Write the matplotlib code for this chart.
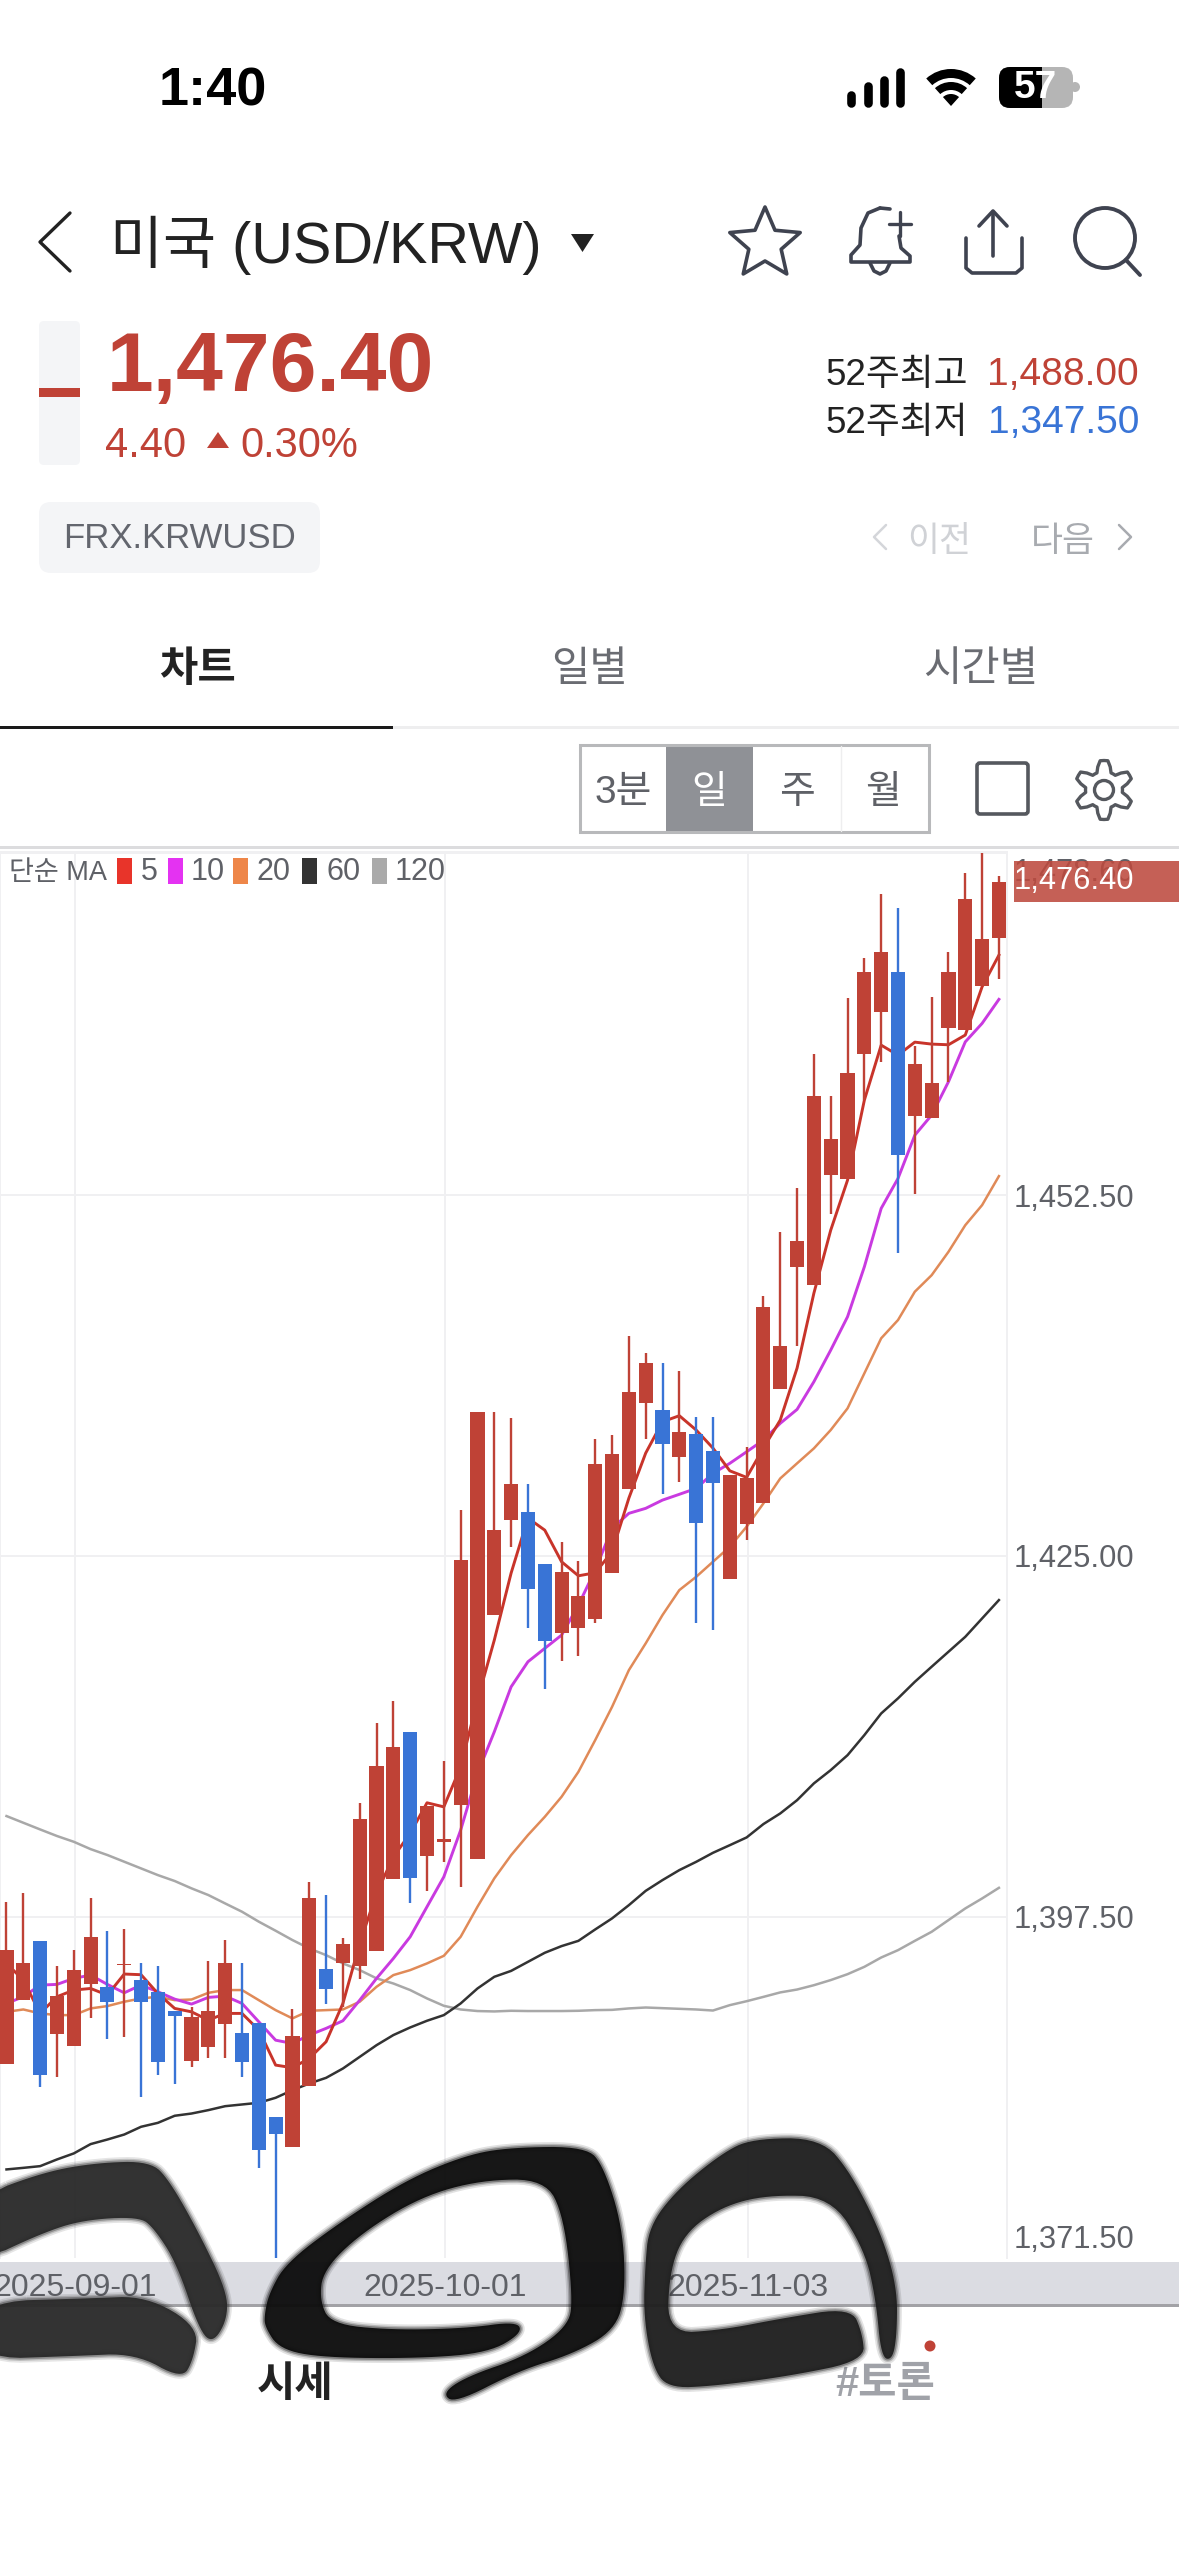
# -*- coding: utf-8 -*-
# USD/KRW daily candle chart, phone screenshot of the stock app
import numpy as np
import matplotlib
matplotlib.use('Agg')
import matplotlib.pyplot as plt
from matplotlib.patches import Rectangle, FancyBboxPatch, Polygon, Circle, Wedge
from matplotlib.transforms import ScaledTranslation

plt.rcParams['font.family'] = ['Liberation Sans', 'Noto Sans CJK KR', 'DejaVu Sans']

# candle data
body_top = [1394.97, 1393.95, 1395.65, 1391.46, 1393.44, 1395.96, 1392.15, 1393.90, 1392.65, 1391.76,
            1390.32, 1389.83, 1390.32, 1393.95, 1388.64, 1389.43, 1382.21, 1388.44, 1398.96, 1393.54,
            1395.42, 1404.95, 1408.99, 1410.46, 1411.55, 1405.94, 1403.45, 1424.69, 1435.99, 1426.97,
            1430.48, 1428.37, 1424.38, 1423.77, 1421.97, 1432.00, 1432.77, 1437.49, 1439.68, 1436.10,
            1434.47, 1434.27, 1432.97, 1431.17, 1430.96, 1443.97, 1440.99, 1448.99, 1460.02, 1456.79,
            1461.82, 1469.52, 1471.02, 1469.52, 1462.51, 1461.01, 1469.52, 1475.04, 1472.04, 1476.40]
body_bottom = [1386.25, 1391.15, 1385.44, 1388.56, 1387.65, 1392.37, 1390.98, 1393.80, 1390.98, 1386.45,
               1389.96, 1386.55, 1387.57, 1389.35, 1386.45, 1379.74, 1380.94, 1379.95, 1384.57, 1391.97,
               1393.95, 1393.77, 1394.86, 1400.37, 1400.49, 1402.16, 1403.19, 1406.01, 1401.90, 1420.50,
               1427.71, 1422.50, 1418.49, 1419.10, 1419.50, 1420.19, 1423.72, 1430.12, 1436.63, 1433.53,
               1432.52, 1427.53, 1430.53, 1423.22, 1427.41, 1429.01, 1437.71, 1447.04, 1445.64, 1454.05,
               1453.74, 1463.27, 1466.47, 1455.55, 1458.54, 1458.35, 1465.25, 1465.05, 1468.45, 1472.07]
highs = [1398.65, 1399.34, 1395.65, 1393.75, 1394.97, 1398.95, 1396.44, 1396.54, 1393.95, 1393.75,
         1390.32, 1390.60, 1394.13, 1395.73, 1393.95, 1389.43, 1382.21, 1390.44, 1400.12, 1399.16,
         1395.85, 1406.17, 1412.26, 1413.96, 1411.55, 1405.94, 1409.37, 1428.50, 1435.99, 1435.99,
         1435.49, 1430.46, 1424.38, 1426.08, 1424.61, 1433.89, 1434.19, 1441.78, 1440.49, 1439.68,
         1439.09, 1435.56, 1435.56, 1431.17, 1433.28, 1444.79, 1449.70, 1453.01, 1463.25, 1460.02,
         1467.52, 1470.54, 1475.42, 1474.35, 1463.86, 1467.61, 1471.02, 1477.02, 1478.60, 1476.81]
lows = [1386.25, 1391.15, 1384.50, 1385.26, 1387.65, 1389.76, 1388.16, 1388.36, 1383.78, 1385.46,
        1384.78, 1386.07, 1386.76, 1386.76, 1385.26, 1378.35, 1371.50, 1379.95, 1384.57, 1390.85,
        1390.65, 1392.78, 1394.86, 1400.37, 1398.57, 1399.48, 1401.67, 1399.79, 1401.90, 1420.50,
        1425.70, 1419.50, 1414.86, 1416.99, 1417.39, 1419.91, 1423.72, 1430.12, 1433.91, 1429.72,
        1430.61, 1419.91, 1419.35, 1423.22, 1426.21, 1429.01, 1437.71, 1441.01, 1445.64, 1451.05,
        1453.74, 1459.76, 1462.66, 1448.06, 1452.55, 1458.35, 1461.09, 1465.05, 1468.45, 1468.96]
falling = [2, 6, 8, 9, 10, 14, 15, 16, 19, 24, 31, 32, 39, 41, 42, 53]

# moving averages
ma5 = [1393.95, 1392.68, 1390.14, 1391.41, 1391.92, 1392.04, 1391.54, 1393.14, 1393.09, 1391.66,
       1390.52, 1390.26, 1389.63, 1390.14, 1390.14, 1388.87, 1386.20, 1386.00, 1386.71, 1387.98,
       1390.90, 1395.47, 1399.30, 1402.07, 1403.86, 1406.19, 1405.88, 1408.93, 1414.02, 1418.59,
       1423.70, 1427.89, 1426.97, 1424.56, 1423.49, 1423.72, 1425.32, 1429.41, 1432.84, 1435.23,
       1435.69, 1434.60, 1433.22, 1431.49, 1430.99, 1433.22, 1435.36, 1439.32, 1445.03, 1449.83,
       1453.64, 1459.74, 1463.93, 1463.17, 1464.16, 1464.01, 1463.96, 1464.70, 1468.38, 1470.79]
ma10 = [1390.90, 1391.41, 1392.30, 1392.35, 1392.81, 1393.06, 1392.35, 1391.71, 1392.30, 1391.79,
        1391.23, 1390.85, 1391.36, 1391.46, 1390.90, 1389.50, 1388.10, 1387.85, 1388.49, 1389.00,
        1389.58, 1391.15, 1392.81, 1394.33, 1395.98, 1398.27, 1400.55, 1404.11, 1408.43, 1411.60,
        1415.03, 1416.94, 1417.96, 1418.97, 1421.26, 1423.93, 1427.10, 1428.25, 1428.63, 1429.26,
        1429.70, 1430.15, 1431.30, 1432.06, 1432.94, 1433.83, 1435.11, 1436.17, 1438.28, 1440.69,
        1443.23, 1447.04, 1451.49, 1453.77, 1457.07, 1458.60, 1461.14, 1464.18, 1465.59, 1467.42]
ma20 = [1390.26, 1390.44, 1390.14, 1390.01, 1390.01, 1390.52, 1390.70, 1391.03, 1391.28, 1391.41,
        1391.15, 1391.20, 1391.71, 1391.92, 1391.92, 1391.15, 1390.39, 1389.76, 1390.34, 1390.39,
        1390.44, 1391.03, 1392.17, 1393.06, 1393.44, 1393.95, 1394.53, 1395.98, 1398.27, 1400.43,
        1402.20, 1403.73, 1405.12, 1406.65, 1408.55, 1410.97, 1413.50, 1416.30, 1418.34, 1420.50,
        1422.40, 1423.41, 1424.56, 1425.70, 1427.23, 1429.01, 1430.91, 1432.06, 1433.20, 1434.60,
        1436.25, 1438.92, 1441.59, 1442.98, 1445.14, 1446.40, 1448.18, 1450.21, 1451.74, 1453.95]
ma60 = [1378.25, 1378.37, 1378.50, 1379.01, 1379.47, 1380.18, 1380.53, 1380.91, 1381.50, 1381.80,
        1382.34, 1382.51, 1382.77, 1383.07, 1383.20, 1383.33, 1383.71, 1384.29, 1384.80, 1385.23,
        1385.94, 1386.83, 1387.72, 1388.49, 1389.07, 1389.58, 1390.01, 1390.90, 1392.04, 1392.93,
        1393.38, 1394.07, 1394.76, 1395.27, 1395.67, 1396.54, 1397.38, 1398.39, 1399.48, 1400.30,
        1401.06, 1401.69, 1402.38, 1402.96, 1403.55, 1404.57, 1405.38, 1406.39, 1407.67, 1408.68,
        1409.82, 1411.35, 1413.00, 1414.15, 1415.41, 1416.56, 1417.70, 1418.84, 1420.24, 1421.64]
ma120 = [1405.18, 1404.67, 1404.16, 1403.66, 1403.22, 1402.66, 1402.21, 1401.70, 1401.19, 1400.68,
         1400.23, 1399.67, 1399.16, 1398.52, 1397.89, 1397.13, 1396.44, 1395.73, 1395.09, 1394.58,
         1393.95, 1393.44, 1392.81, 1392.42, 1391.92, 1391.28, 1390.72, 1390.44, 1390.32, 1390.29,
         1390.34, 1390.32, 1390.32, 1390.32, 1390.34, 1390.39, 1390.41, 1390.52, 1390.59, 1390.54,
         1390.49, 1390.44, 1390.36, 1390.77, 1391.07, 1391.40, 1391.74, 1391.96, 1392.29, 1392.68,
         1393.13, 1393.69, 1394.40, 1394.96, 1395.67, 1396.36, 1397.25, 1398.14, 1398.90, 1399.71]

y_ticks = [1371.50, 1397.50, 1425.00, 1452.50, 1478.60]
y_labels = ['1,371.50', '1,397.50', '1,425.00', '1,452.50', '1,478.60']
x_ticks = [4.1, 26.08, 44.07]
x_labels = ['2025-09-01', '2025-10-01', '2025-11-03']

RED = '#bf4236'
BLUE = '#3974d6'
GREY_TXT = '#5f6167'
ICON = '#3f4350'

fig = plt.figure(figsize=(11.79, 25.56), dpi=100, facecolor='white')


def px_axes(z):
    a = fig.add_axes([0, 0, 1, 1], zorder=z)
    a.set_xlim(0, 1179)
    a.set_ylim(2556, 0)
    a.axis('off')
    return a


bg = px_axes(0)
fg = px_axes(5)


def txt(a, x, y, s, size, color, ha='left', va='center', weight='normal'):
    a.text(x, y, s, fontsize=size, color=color, ha=ha, va=va, fontweight=weight)


def line(a, xs, ys, color, lw, cap='round'):
    a.plot(xs, ys, color=color, lw=lw, solid_capstyle=cap, solid_joinstyle='round')


def rbox(a, x0, y0, x1, y1, r, **kw):
    a.add_patch(FancyBboxPatch((x0 + r, y0 + r), x1 - x0 - 2 * r, y1 - y0 - 2 * r,
                               boxstyle='round,pad=%g' % r, **kw))


# status bar
txt(bg, 159, 105, '1:40', 39, 'black', va='baseline', weight='bold')
for bx, by in zip([851, 868, 884, 900], [92, 83, 77, 69]):
    line(bg, [bx, bx], [by + 3, 103], 'black', 6.2)
for r_out, r_w in [(37, 9), (24, 8)]:
    bg.add_patch(Wedge((951, 106), r_out, 228, 312, width=r_w, color='black', lw=0))
bg.add_patch(Wedge((951, 106), 12, 228, 312, color='black', lw=0))
rbox(bg, 999, 67, 1073, 108, 11, fc='#b5b5b5', ec='none')
black_part = FancyBboxPatch((1010, 78), 52, 19, boxstyle='round,pad=11', fc='black', ec='none')
bg.add_patch(black_part)
black_part.set_clip_path(Rectangle((999, 60), 43, 55, transform=bg.transData))
bg.add_patch(Circle((1075, 87), 5, color='#b5b5b5', lw=0, zorder=0.5))
txt(bg, 1035, 88, '57', 28, 'white', ha='center', weight='bold')

# title row
line(bg, [70, 40, 70], [213, 242, 271], '#222222', 2.4)
txt(bg, 110, 263, '미국 (USD/KRW)', 41.5, '#222222', va='baseline')
bg.add_patch(Polygon([(571, 234), (594, 234), (582.5, 252)], fc='#222222', ec='none'))

star_a = np.deg2rad(np.arange(0, 360, 36) - 90)
star_r = np.where(np.arange(10) % 2 == 0, 37, 17)
bg.add_patch(Polygon(np.c_[765 + star_r * np.cos(star_a), 244 + star_r * np.sin(star_a)],
                     fc='none', ec=ICON, lw=2.6, joinstyle='round'))
line(bg, [880, 868, 861, 860, 851, 851, 910, 910, 901, 899],
     [208, 213, 228, 245, 255, 262, 262, 256, 248, 236], ICON, 2.6)
line(bg, [880, 890], [208, 209], ICON, 2.6)
line(bg, [870, 874, 880, 886, 890], [263, 271, 274, 271, 263], ICON, 2.6)
line(bg, [900, 900], [212, 236], ICON, 2.4)
line(bg, [889, 911], [224, 224], ICON, 2.4)
line(bg, [966, 966, 972, 1016, 1022, 1022], [238, 268, 273, 273, 268, 238], ICON, 2.6)
line(bg, [993, 993], [212, 256], ICON, 2.6)
line(bg, [979, 993, 1007], [226, 211, 226], ICON, 2.6)
bg.add_patch(Circle((1105, 238), 30, fc='none', ec=ICON, lw=2.8))
line(bg, [1126, 1140], [260, 275], ICON, 2.8)

# price block
rbox(bg, 39, 321, 80, 465, 5, fc='#f4f5f7', ec='none')
bg.add_patch(Rectangle((39, 388), 41, 9, fc=RED, ec='none'))
txt(bg, 107, 391, '1,476.40', 60.5, RED, va='baseline', weight='bold')
txt(bg, 105, 457, '4.40', 30, RED, va='baseline')
bg.add_patch(Polygon([(207, 448), (229, 448), (218, 432)], fc=RED, ec='none'))
txt(bg, 240, 457, '0.30%', 30, RED, va='baseline')
txt(bg, 968, 385, '52주최고', 26.5, '#222222', ha='right', va='baseline')
txt(bg, 1139, 385, '1,488.00', 28, RED, ha='right', va='baseline')
txt(bg, 968, 433, '52주최저', 26.5, '#222222', ha='right', va='baseline')
txt(bg, 1139, 433, '1,347.50', 28, BLUE, ha='right', va='baseline')

rbox(bg, 39, 502, 320, 573, 12, fc='#f4f5f7', ec='none')
txt(bg, 63, 538, 'FRX.KRWUSD', 25, '#63666e')
line(bg, [886, 874, 886], [525, 537, 549], '#d4d6da', 1.8)
txt(bg, 907, 541, '이전', 25, '#d0d2d6')
txt(bg, 1031, 541, '다음', 25, '#a8abb0')
line(bg, [1119, 1131, 1119], [525, 537, 549], '#a8abb0', 1.8)

# tabs
txt(bg, 197, 670, '차트', 30, '#222222', ha='center', weight='bold')
txt(bg, 590, 670, '일별', 30, '#6a6c72', ha='center')
txt(bg, 981, 670, '시간별', 30, '#6a6c72', ha='center')
bg.add_patch(Rectangle((393, 726), 786, 3, fc='#eeeeef', ec='none'))
bg.add_patch(Rectangle((0, 725.5), 393, 3.5, fc='#1a1a1a', ec='none'))

# period buttons
bg.add_patch(Rectangle((666, 745), 87, 87, fc='#8f9196', ec='none'))
bg.add_patch(Rectangle((580, 745), 349, 87, fc='none', ec='#b8b9bb', lw=2.2))
line(bg, [841, 841], [746, 831], '#eeeeef', 1)
txt(bg, 623, 793, '3분', 28, GREY_TXT, ha='center')
txt(bg, 709, 793, '일', 28, 'white', ha='center')
txt(bg, 797, 793, '주', 28, GREY_TXT, ha='center')
txt(bg, 883, 793, '월', 28, GREY_TXT, ha='center')
rbox(bg, 977, 763, 1028, 814, 3, fc='none', ec='#55585e', lw=2.6)
gear_a = np.deg2rad(np.arange(0, 360, 7.5) - 90)
gear_r = 24 + 5.5 * np.clip(2.2 * np.cos(6 * (gear_a + np.pi / 2)), -1, 1)
bg.add_patch(Polygon(np.c_[1104 + gear_r * np.cos(gear_a), 790 + gear_r * np.sin(gear_a)],
                     fc='none', ec='#55585e', lw=2.4, joinstyle='round'))
bg.add_patch(Circle((1104, 790), 9.5, fc='none', ec='#55585e', lw=2.4))

# chart frame and axis band
bg.add_patch(Rectangle((0, 845.5), 1179, 3.5, fc='#dcdcde', ec='none'))
bg.add_patch(Rectangle((0, 2262), 1179, 43, fc='#dbdce2', ec='none'))
bg.add_patch(Rectangle((0, 2304), 1179, 2.5, fc='#a2a2a6', ec='none'))

# the chart itself
ax = fig.add_axes([0, 1 - 2258 / 2556, 1007 / 1179, (2258 - 852) / 2556], zorder=1)
ax.patch.set_visible(False)
x = np.arange(len(body_top))
top = np.array(body_top)
bottom = np.array(body_bottom)
colors = [BLUE if i in falling else RED for i in x]

for ma, c, w in [(ma120, '#a8a8a8', 1.8), (ma60, '#333333', 1.8), (ma20, '#e08a58', 1.8),
                 (ma10, '#c93ae0', 2.1), (ma5, '#c8342a', 2.1)]:
    ax.plot(x, ma, color=c, lw=w, zorder=2)
ax.vlines(x, lows, highs, colors=colors, lw=1.7, zorder=3)
ax.bar(x, top - bottom, bottom=bottom, width=0.84, color=colors, zorder=4)

ax.set_xlim(-0.386, 59.48)
ax.set_ylim(1371.5, 1478.65)
ax.set_xticks(x_ticks, x_labels)
ax.yaxis.tick_right()
ax.set_yticks(y_ticks, y_labels)
ax.tick_params(axis='x', length=0, pad=11, labelsize=23, labelcolor=GREY_TXT)
ax.tick_params(axis='y', length=0, pad=5, labelsize=22.2, labelcolor=GREY_TXT)
ax.grid(True, color='#f0f0f2', lw=1.4)
ax.set_axisbelow(True)
ax.yaxis.get_major_ticks()[0].gridline.set_visible(False)
for side, sp in ax.spines.items():
    sp.set_visible(side in ('left', 'right', 'top'))
    sp.set_color('#f0f0f2')
    sp.set_linewidth(1.4)
low_lab = ax.get_yticklabels()[0]
low_lab.set_verticalalignment('bottom')
low_lab.set_transform(low_lab.get_transform() + ScaledTranslation(0, 2.5 / 72, fig.dpi_scale_trans))
top_lab = ax.get_yticklabels()[-1]
top_lab.set_verticalalignment('top')
top_lab.set_transform(top_lab.get_transform() + ScaledTranslation(0, -4 / 72, fig.dpi_scale_trans))

# current price tag
fg.add_patch(Rectangle((1014, 861), 165, 41, fc='#bd4a3e', ec='none', alpha=0.88))
txt(fg, 1014, 881, '1,476.40', 22.2, 'white')

# MA legend
txt(fg, 9, 873, '단순 MA', 19.5, GREY_TXT)
for sx, lx, lab, c in [(117, 141, '5', '#e8342a'), (168, 191, '10', '#e432f2'), (233, 257, '20', '#ee8649'),
                       (302, 326, '60', '#333333'), (372, 395, '120', '#aaaaaa')]:
    fg.add_patch(Rectangle((sx, 858), 15, 26, fc=c, ec='none'))
    txt(fg, lx, 872, lab, 22, GREY_TXT)

# bottom tabs
txt(fg, 295, 2385, '시세', 30, '#222222', ha='center', weight='bold')
txt(fg, 885, 2385, '#토론', 30, '#a0a2a8', ha='center', weight='bold')
fg.add_patch(Circle((930, 2346), 5.5, color=RED, lw=0))


# marker pen scribbles over the bottom of the screen
def brush(pts, color):
    p = np.array(pts, dtype=float)
    p[:, 0] = p[:, 0] / 1.33
    p[:, 1] = 2100 + p[:, 1] / 3
    # round the corners a bit, a brush has no sharp ones
    for _ in range(3):
        nxt = np.roll(p, -1, axis=0)
        p = np.column_stack([0.75 * p + 0.25 * nxt, 0.25 * p + 0.75 * nxt]).reshape(-1, 2)
    for lw, al in [(7, 0.12), (4.5, 0.2), (2.5, 0.35)]:
        fg.add_patch(Polygon(p, closed=True, fc='none', ec=color, lw=lw, alpha=al, joinstyle='round', zorder=6))
    fg.add_patch(Polygon(p, closed=True, fc=color, ec='none', alpha=0.96, zorder=6))


brush([(-30, 290), (60, 215), (130, 188), (200, 184), (225, 240), (265, 400), (302, 575), (302, 660), (283, 730),
       (265, 690), (235, 490), (205, 385), (185, 350), (110, 360), (55, 400), (-30, 490)], '#2a2a2a')
brush([(-30, 605), (120, 595), (195, 588), (264, 680), (257, 780), (242, 838), (180, 760), (100, 768), (-30, 778)],
      '#2a2a2a')
brush([(352, 640), (358, 580), (380, 490), (450, 370), (540, 240), (620, 165), (680, 142), (780, 140), (803, 200),
       (828, 380), (832, 580), (818, 690), (762, 762), (690, 812), (605, 910), (588, 880), (620, 830), (700, 768),
       (755, 680), (762, 600), (750, 350), (725, 238), (640, 240), (560, 290), (480, 400), (430, 510), (425, 600),
       (440, 672), (520, 690), (620, 685), (688, 664), (694, 700), (650, 758), (560, 775), (430, 773), (372, 748),
       (352, 680)], '#0d0d0d')
brush([(858, 500), (863, 380), (900, 270), (960, 160), (1000, 116), (1092, 114), (1132, 220), (1172, 400),
       (1193, 560), (1193, 700), (1187, 780), (1172, 772), (1165, 600), (1150, 450), (1105, 290), (1020, 285),
       (960, 320), (910, 400), (890, 520), (888, 700), (960, 690), (1040, 655), (1132, 622), (1147, 700),
       (1150, 782), (1050, 828), (950, 858), (888, 864), (868, 800), (856, 650)], '#1f1f1f')

fig.savefig('out.png', dpi=100)
